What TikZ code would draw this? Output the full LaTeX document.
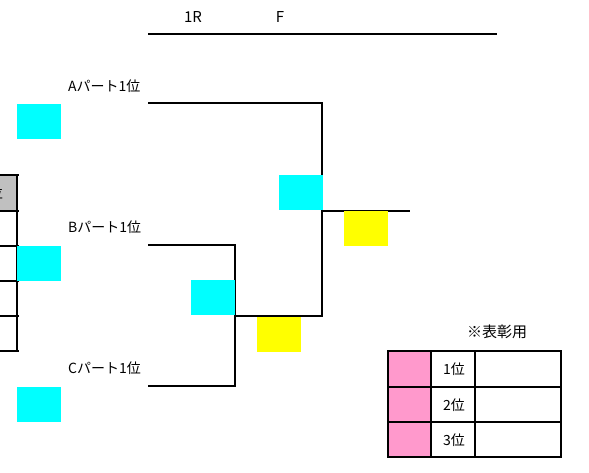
\documentclass[tikz,border=0pt]{standalone}
\usepackage{fontspec}
\setmainfont{Noto Sans CJK JP}
\usepackage{tikz}
\usetikzlibrary{positioning,calc}

\definecolor{seed}{HTML}{00FFFF}
\definecolor{score}{HTML}{FFFF00}
\definecolor{award}{HTML}{FF99CC}
\definecolor{head}{HTML}{C0C0C0}

\tikzset{
    seedbox/.style={fill=seed, minimum width=44pt, minimum height=35pt, inner sep=0pt, anchor=north west},
    scorebox/.style={fill=score, minimum width=44pt, minimum height=35pt, inner sep=0pt, anchor=north west},
    team/.style={font=\fontsize{14}{14}\selectfont, anchor=west, inner sep=0pt},
    bracket/.style={line width=2.6pt},
    grid/.style={line width=2pt},
}

\begin{document}
\begin{tikzpicture}[x=1pt, y=-1pt]
        \clip (0,0) rectangle (589,472);
        % header
        \node (r1) at (193,17) {\fontsize{15}{15}\selectfont 1R};
        \node (fin) at (280,17) {\fontsize{15}{15}\selectfont F};
        \draw[bracket] (148,34) coordinate (hl) -- (497,34) coordinate (hr);

        % left table (cut off)
        \fill[head] (-30,175) rectangle (17,211);
        \node (pos) at (-4,193) {\fontsize{14}{14}\selectfont 位};
        \foreach \y in {175,211,246,281,316,351}
            \draw[grid] (-30,\y) -- (19,\y);
        \draw[grid] (17,175) -- (17,351);

        % teams
        \node[team] (la) at (68,86) {Aパート1位};
        \node[team] (lb) at (68,227) {Bパート1位};
        \node[team] (lc) at (68,368) {Cパート1位};
        \node[seedbox] (sa) at (17,104) {};
        \node[seedbox] (sb) at (17,246) {};
        \node[seedbox] (sc) at (17,387) {};

        % bracket
        \coordinate (A) at (148,103);
        \coordinate (B) at (148,245);
        \coordinate (C) at (148,386);
        \coordinate (BC) at (235,316);
        \coordinate (AF) at (322,316);
        \coordinate (W) at (322,211);
        \coordinate (We) at (410,211);
        \draw[bracket] (B) -| (C -| BC) -- (C);
        \draw[bracket] (A) -| (AF) -- (BC);
        \draw[bracket] (W) -- (We);

        \node[seedbox] (s1) at (191,280) {};
        \node[seedbox] (sf) at (279,175) {};
        \node[scorebox] (y1) at (257,317) {};
        \node[scorebox] (y2) at (344,211) {};

        % award table
        \node (aw) at (497,332) {\fontsize{15}{15}\selectfont ※表彰用};
        \fill[award] (388,351) rectangle (431,457);
        \foreach \y/\t [count=\i] in {351/1,387/2,422/3}
            \node (p\i) at (454,\y+18) {\fontsize{14}{14}\selectfont \t 位};
        \draw[grid] (388,351) rectangle (561,457);
        \foreach \y in {387,422}
            \draw[grid] (388,\y) -- (561,\y);
        \foreach \x in {431,475}
            \draw[grid] (\x,351) -- (\x,457);
    \end{tikzpicture}
\end{document}
